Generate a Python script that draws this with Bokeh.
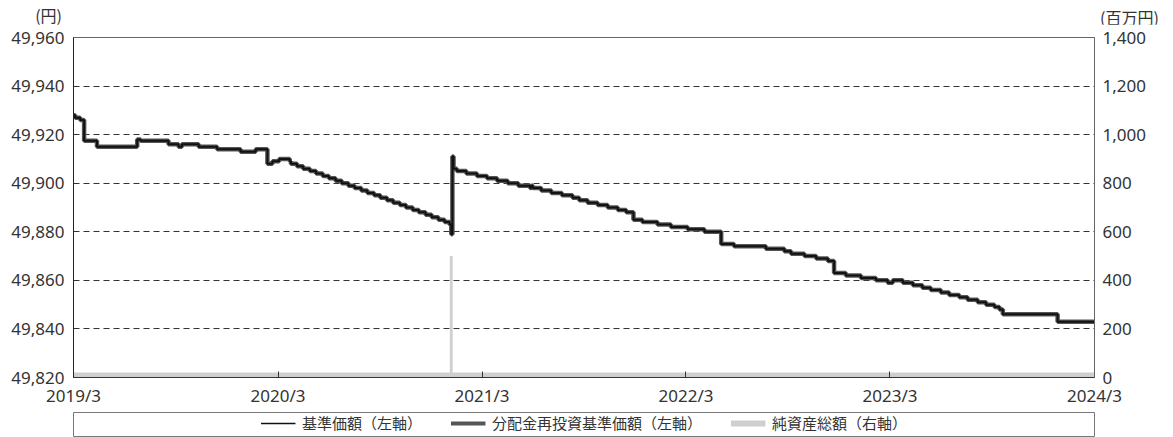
import pandas as pd
from bokeh.plotting import figure
from bokeh.models import (Range1d, LinearAxis, FixedTicker, NumeralTickFormatter,
                          Div, Legend, LegendItem, ColumnDataSource)
from bokeh.layouts import column
from bokeh.embed import file_html
from bokeh.resources import INLINE

# ---------------- data ----------------
nav_dates = [
    "2019-03-01", "2019-03-04", "2019-03-13", "2019-03-20", "2019-04-12", "2019-06-23",
    "2019-06-29", "2019-08-18", "2019-09-05", "2019-09-11", "2019-10-11", "2019-11-13",
    "2019-12-25", "2020-01-21", "2020-02-11", "2020-02-20", "2020-03-03", "2020-03-22",
    "2020-03-24", "2020-04-04", "2020-04-15", "2020-04-27", "2020-05-08", "2020-05-20",
    "2020-05-31", "2020-06-12", "2020-06-23", "2020-07-05", "2020-07-16", "2020-07-28",
    "2020-08-08", "2020-08-20", "2020-08-31", "2020-09-12", "2020-09-23", "2020-10-05",
    "2020-10-16", "2020-10-28", "2020-11-08", "2020-11-20", "2020-12-01", "2020-12-13",
    "2020-12-24", "2021-01-02", "2021-01-05", "2021-01-07", "2021-01-09", "2021-01-15",
    "2021-02-01", "2021-02-20", "2021-03-10", "2021-03-28", "2021-04-16", "2021-05-05",
    "2021-05-26", "2021-05-28", "2021-05-31", "2021-06-15", "2021-07-03", "2021-07-22",
    "2021-08-10", "2021-08-22", "2021-09-06", "2021-09-24", "2021-10-12", "2021-10-30",
    "2021-11-14", "2021-11-27", "2021-12-13", "2022-01-09", "2022-02-02", "2022-03-04",
    "2022-04-03", "2022-05-03", "2022-05-26", "2022-07-22", "2022-08-24", "2022-09-05",
    "2022-09-29", "2022-10-20", "2022-11-10", "2022-11-21", "2022-12-12", "2023-01-08",
    "2023-02-04", "2023-02-25", "2023-03-06", "2023-03-24", "2023-04-11", "2023-04-28",
    "2023-05-13", "2023-05-31", "2023-06-15", "2023-07-03", "2023-07-18", "2023-08-05",
    "2023-08-20", "2023-09-04", "2023-09-13", "2023-09-19", "2023-12-26", "2024-03-01",
]
nav = [
    49928, 49927, 49926, 49917.5, 49915, 49918,
    49917.5, 49916, 49915, 49916, 49915, 49914,
    49913, 49914, 49908, 49909, 49910, 49909,
    49908, 49907, 49906, 49905, 49904, 49903,
    49902, 49901, 49900, 49899, 49898, 49897,
    49896, 49895, 49894, 49893, 49892, 49891,
    49890, 49889, 49888, 49887, 49886, 49885,
    49884, 49883, 49879, 49911, 49906, 49905,
    49904, 49903, 49902, 49901, 49900, 49899,
    49898, 49899, 49898, 49897, 49896, 49895,
    49894, 49893, 49892, 49891, 49890, 49889,
    49888, 49885, 49884, 49883, 49882, 49881,
    49880, 49875, 49874, 49873, 49872, 49871,
    49870, 49869, 49868, 49863, 49862, 49861,
    49860, 49859, 49860, 49859, 49858, 49857,
    49856, 49855, 49854, 49853, 49852, 49851,
    49850, 49849, 49848, 49846, 49843, 49843,
]
# no distributions were paid, so the reinvested NAV equals the NAV
reinvest_nav = list(nav)

net_asset_dates = ["2019-03-01", "2020-12-31", "2021-01-05", "2021-01-10", "2024-03-01"]
net_assets = [21, 21, 500, 21, 21]  # 百万円

x_tick_dates = ["2019-03-01", "2020-03-01", "2021-03-01", "2022-03-01", "2023-03-01", "2024-03-01"]
x_tick_labels = ["2019/3", "2020/3", "2021/3", "2022/3", "2023/3", "2024/3"]
left_ticks = [49820, 49840, 49860, 49880, 49900, 49920, 49940, 49960]
right_ticks = [0, 200, 400, 600, 800, 1000, 1200, 1400]

left_unit = "(円)"
right_unit = "(百万円)"
legend_labels = ["基準価額（左軸）", "分配金再投資基準価額（左軸）", "純資産総額（右軸）"]

# ---------------- helpers / styles ----------------
def ms(d):
    return pd.Timestamp(d).value // 10**6

W = 1168
BL, BR = 73, 74
HDR_H = 24
TXT = "#333333"
FONT = "Noto Sans"
JFONT = "Noto Sans CJK JP"

# ---------------- header with the unit captions ----------------
hdr = Div(
    text=(f'<div style="position:relative;width:{W}px;height:{HDR_H}px;'
          f"font-family:'{JFONT}';font-size:16px;line-height:16px;color:{TXT};\">"
          f'<span style="position:absolute;right:{W - 62}px;top:7px;white-space:nowrap">{left_unit}</span>'
          f'<span style="position:absolute;left:1100px;top:9px;white-space:nowrap">{right_unit}</span>'
          f'</div>'),
    width=W, height=HDR_H, margin=0)

# ---------------- main chart ----------------
p = figure(width=W, height=412 - HDR_H, x_axis_type="datetime", output_backend="svg",
           toolbar_location=None,
           x_range=Range1d(ms(x_tick_dates[0]), ms(x_tick_dates[-1])),
           y_range=Range1d(left_ticks[0], left_ticks[-1]),
           min_border_left=BL, min_border_right=BR, min_border_top=37 - HDR_H,
           min_border_bottom=35)
p.extra_y_ranges = {"na": Range1d(right_ticks[0], right_ticks[-1])}

src_nav = ColumnDataSource(dict(x=pd.to_datetime(nav_dates), nav=nav, rnav=reinvest_nav))
src_na = ColumnDataSource(dict(x=pd.to_datetime(net_asset_dates), y1=[0] * len(net_assets),
                               y2=net_assets))

p.varea_step(x="x", y1="y1", y2="y2", step_mode="center", source=src_na,
             y_range_name="na", fill_color="#cfcfcf")
p.step(x="x", y="rnav", mode="after", source=src_nav, line_color="#555555", line_width=4.5)
p.step(x="x", y="nav", mode="after", source=src_nav, line_color="#111111", line_width=2)

# x axis
xa = p.xaxis[0]
xa.ticker = FixedTicker(ticks=[ms(d) for d in x_tick_dates], minor_ticks=[])
xa.major_label_overrides = {ms(d): lab for d, lab in zip(x_tick_dates, x_tick_labels)}
xa.major_tick_in = 6
xa.major_tick_out = 0
xa.minor_tick_line_color = None
xa.axis_line_color = "#333333"
xa.major_tick_line_color = "#333333"
xa.major_label_text_font = FONT
xa.major_label_text_font_size = "17px"
xa.major_label_text_color = TXT
xa.major_label_standoff = 6

# left axis
ya = p.yaxis[0]
ya.ticker = FixedTicker(ticks=left_ticks, minor_ticks=[])
ya.formatter = NumeralTickFormatter(format="0,0")
ya.major_tick_in = 0
ya.major_tick_out = 0
ya.minor_tick_line_color = None
ya.axis_line_color = "#222222"
ya.major_label_text_font = FONT
ya.major_label_text_font_size = "17px"
ya.major_label_text_color = TXT
ya.major_label_standoff = 9

# right axis
ra = LinearAxis(y_range_name="na", ticker=FixedTicker(ticks=right_ticks, minor_ticks=[]),
                formatter=NumeralTickFormatter(format="0,0"))
ra.major_tick_in = 0
ra.major_tick_out = 0
ra.minor_tick_line_color = None
ra.axis_line_color = "#666666"
ra.major_label_text_font = FONT
ra.major_label_text_font_size = "17px"
ra.major_label_text_color = TXT
ra.major_label_standoff = 8
p.add_layout(ra, "right")

p.xgrid.visible = False
p.ygrid.grid_line_color = "#333333"
p.ygrid.grid_line_dash = "6 4"
p.ygrid.grid_line_width = 1
p.outline_line_color = "#666666"

# ---------------- legend strip ----------------
lf = figure(width=W, height=25, output_backend="svg", toolbar_location=None,
            x_range=Range1d(0, 1), y_range=Range1d(0, 1),
            x_axis_location=None, y_axis_location=None,
            min_border_left=BL, min_border_right=BR, min_border_top=0, min_border_bottom=0)
lf.grid.visible = False
lf.outline_line_color = "#777777"
# legend swatches (placed outside the visible range, only their legend glyphs show)
r1 = lf.line(x=[-5, -4], y=[-5, -5], line_color="#111111", line_width=1.5)
r2 = lf.line(x=[-5, -4], y=[-5, -5], line_color="#555555", line_width=4)
r3 = lf.line(x=[-5, -4], y=[-5, -5], line_color="#cfcfcf", line_width=6)
leg = Legend(items=[LegendItem(label=legend_labels[0], renderers=[r1]),
                    LegendItem(label=legend_labels[1], renderers=[r2]),
                    LegendItem(label=legend_labels[2], renderers=[r3])],
             orientation="horizontal", location="bottom_center",
             border_line_alpha=0, background_fill_alpha=0,
             label_text_font=JFONT, label_text_font_size="15px", label_text_color=TXT,
             glyph_width=35, glyph_height=12, label_standoff=7, spacing=28,
             padding=0, margin=4)
lf.add_layout(leg)

layout = column(hdr, p, lf)
open("out.html", "w").write(file_html(layout, INLINE))
